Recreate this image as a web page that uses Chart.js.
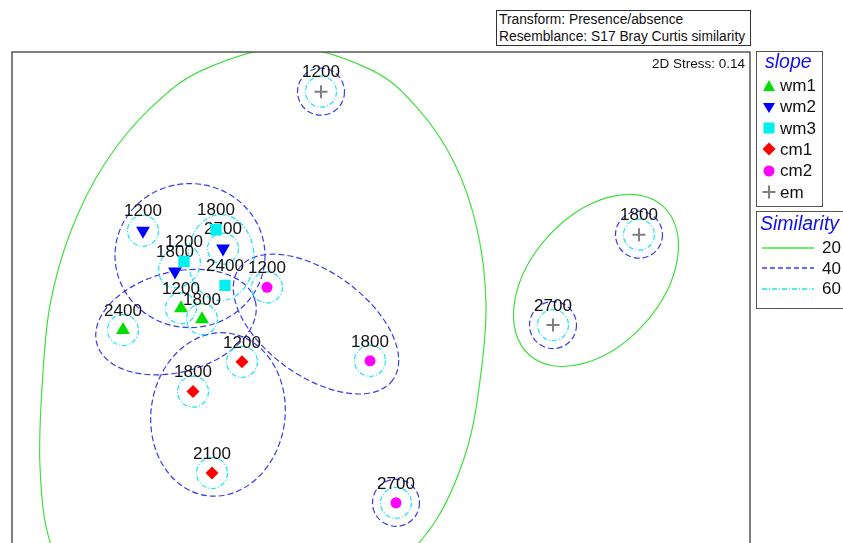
<!DOCTYPE html>
<html>
<head>
<meta charset="utf-8">
<script src="https://cdn.jsdelivr.net/npm/chart.js@4.4.1/dist/chart.umd.min.js"></script>
<style>
	body {margin: 0; width: 843px; height: 543px; overflow: hidden; background: #fff; position: relative; font-family: 'Liberation Sans', Arial, sans-serif;}
	#wrap {position: absolute; left: 0; top: 0; width: 843px; height: 560px;}
	.box {position: absolute; background: #fff; box-sizing: border-box;}
	.info {left: 496px; top: 10px; width: 255px; height: 36px; border: 1px solid #333; font-size: 13.8px; color: #111; padding: 0 0 0 2px; line-height: 17px;}
	.stress {position: absolute; right: 98px; top: 56px; font-size: 13.5px; color: #111;}
	.legend {border: 1.5px solid #555; left: 756px;}
	.legend .title {position: absolute; font-style: italic; color: #1010ee; font-size: 19.5px;}
	.legend .row {position: absolute; left: 5px; font-size: 17px; color: #111; height: 20px; line-height: 20px; white-space: nowrap;}
	.legend svg {vertical-align: middle; margin-right: 4px; position: relative; top: -1px;}
</style>
</head>
<body>
<div id="wrap"><canvas id="nmds" width="843" height="560"></canvas></div>
<div class="box info">Transform: Presence/absence<br>Resemblance: S17 Bray Curtis similarity</div>
<div class="stress">2D Stress: 0.14</div>
<div class="box legend" id="slope" style="top:51px;width:67px;height:156px;"></div>
<div class="box legend" id="sim" style="top:211px;width:100px;height:98px;"></div>
<script>
// nMDS coordinates for each slope group, labelled by altitude
const wm1X = [-1.99, -1.78, -2.57]
const wm1Y = [-0.10, -0.21, -0.32]
const wm1Alt = ['1200', '1800', '2400']
const wm2X = [-2.37, -2.05, -1.57]
const wm2Y = [0.68, 0.27, 0.50]
const wm2Alt = ['1200', '1800', '2700']
const wm3X = [-1.96, -1.64, -1.55]
const wm3Y = [0.37, 0.69, 0.13]
const wm3Alt = ['1200', '1800', '2400']
const cm1X = [-1.38, -1.87, -1.68]
const cm1Y = [-0.64, -0.94, -1.76]
const cm1Alt = ['1200', '1800', '2100']
const cm2X = [-1.13, -0.10, 0.16]
const cm2Y = [0.11, -0.63, -2.06]
const cm2Alt = ['1200', '1800', '2700']
const emX = [-0.59, 2.59, 1.73]
const emY = [2.08, 0.64, -0.27]
const emAlt = ['1200', '1800', '2700']

// 20% similarity outline of the large cluster (traced, closed)
const bigOutlineX = [-1.77, -0.91, -0.09, 0.37, 0.74, 0.97, 1.06, 1.00, 0.86, 0.55, 0.05, -0.60, -1.40, -2.30, -2.95, -3.30, -3.40, -3.38, -3.30, -3.09, -2.75, -2.30]
const bigOutlineY = [2.30, 2.53, 2.30, 1.92, 1.37, 0.70, -0.05, -0.83, -1.55, -2.25, -2.80, -3.25, -3.55, -3.50, -3.10, -2.45, -1.70, -0.90, -0.07, 0.68, 1.36, 1.91]

// similarity contours (centre, semi-axes, tilt in degrees)
const sim20 = [
	{x: 2.16, y: 0.18, rx: 1.00, ry: 0.65, tilt: 48},
]
const sim40 = [
	{x: -1.90, y: 0.43, rx: 0.75, ry: 0.72, tilt: 0},
	{x: -2.04, y: -0.24, rx: 0.82, ry: 0.50, tilt: 15},
	{x: -0.64, y: -0.26, rx: 0.95, ry: 0.52, tilt: -36},
	{x: -1.62, y: -1.17, rx: 0.67, ry: 0.82, tilt: -8},
	{x: -0.59, y: 2.08, rx: 0.235, ry: 0.235, tilt: 0},
	{x: 2.59, y: 0.64, rx: 0.235, ry: 0.235, tilt: 0},
	{x: 1.73, y: -0.27, rx: 0.235, ry: 0.235, tilt: 0},
	{x: 0.16, y: -2.06, rx: 0.235, ry: 0.235, tilt: 0},
]
const sim60 = [
	{x: -1.59, y: 0.41, rx: 0.33, ry: 0.43, tilt: 0},
	{x: -2.005, y: 0.32, rx: 0.23, ry: 0.19, tilt: 48},
	{x: -1.57, y: 0.50, rx: 0.155, ry: 0.155, tilt: 0},
	{x: -2.37, y: 0.68, rx: 0.155, ry: 0.155, tilt: 0},
	{x: -1.99, y: -0.10, rx: 0.155, ry: 0.155, tilt: 0},
	{x: -1.78, y: -0.21, rx: 0.155, ry: 0.155, tilt: 0},
	{x: -2.57, y: -0.32, rx: 0.155, ry: 0.155, tilt: 0},
	{x: -1.38, y: -0.64, rx: 0.155, ry: 0.155, tilt: 0},
	{x: -1.87, y: -0.94, rx: 0.155, ry: 0.155, tilt: 0},
	{x: -1.68, y: -1.76, rx: 0.155, ry: 0.155, tilt: 0},
	{x: -1.13, y: 0.11, rx: 0.155, ry: 0.155, tilt: 0},
	{x: -0.10, y: -0.63, rx: 0.155, ry: 0.155, tilt: 0},
	{x: 0.16, y: -2.06, rx: 0.155, ry: 0.155, tilt: 0},
	{x: -0.59, y: 2.08, rx: 0.155, ry: 0.155, tilt: 0},
	{x: 2.59, y: 0.64, rx: 0.155, ry: 0.155, tilt: 0},
	{x: 1.73, y: -0.27, rx: 0.155, ry: 0.155, tilt: 0},
]

const GREEN = '#3fe03f'
const BLUE = '#3a3aee'
const CYAN = '#18e6f0'
const DASH40 = [6, 3]
const DASH60 = [5, 2, 1, 2]

const groups = [
	{name: 'wm1', xs: wm1X, ys: wm1Y, alt: wm1Alt, style: 'triangle', color: '#00e000', radius: 8, rotation: 0},
	{name: 'wm2', xs: wm2X, ys: wm2Y, alt: wm2Alt, style: 'triangle', color: '#0000ff', radius: 8, rotation: 180},
	{name: 'wm3', xs: wm3X, ys: wm3Y, alt: wm3Alt, style: 'rect', color: '#00f0f0', radius: 8, rotation: 0},
	{name: 'cm1', xs: cm1X, ys: cm1Y, alt: cm1Alt, style: 'rectRot', color: '#ff0000', radius: 6.5, rotation: 0},
	{name: 'cm2', xs: cm2X, ys: cm2Y, alt: cm2Alt, style: 'circle', color: '#ff00ff', radius: 5.5, rotation: 0},
	{name: 'em', xs: emX, ys: emY, alt: emAlt, style: 'cross', color: '#808080', radius: 6.5, rotation: 0},
]

function drawEllipses(chart, list, color, dash) {
	const {ctx, scales: {x, y}} = chart
	const unit = x.getPixelForValue(1) - x.getPixelForValue(0)
	ctx.save()
	ctx.strokeStyle = color
	ctx.lineWidth = 1.2
	ctx.setLineDash(dash)
	for (const e of list) {
		ctx.beginPath()
		ctx.ellipse(x.getPixelForValue(e.x), y.getPixelForValue(e.y), e.rx * unit, e.ry * unit, -e.tilt * Math.PI / 180, 0, 2 * Math.PI)
		ctx.stroke()
	}
	ctx.restore()
}

// closed smooth curve through traced outline points
function drawOutline(chart, xs, ys, color) {
	const {ctx, scales: {x, y}} = chart
	const p = xs.map((v, i) => [x.getPixelForValue(v), y.getPixelForValue(ys[i])])
	const n = p.length
	ctx.save()
	ctx.strokeStyle = color
	ctx.lineWidth = 1.2
	ctx.beginPath()
	ctx.moveTo(p[0][0], p[0][1])
	for (let i = 0; i < n; i++) {
		const p0 = p[(i - 1 + n) % n], p1 = p[i], p2 = p[(i + 1) % n], p3 = p[(i + 2) % n]
		ctx.bezierCurveTo(
			p1[0] + (p2[0] - p0[0]) / 6, p1[1] + (p2[1] - p0[1]) / 6,
			p2[0] - (p3[0] - p1[0]) / 6, p2[1] - (p3[1] - p1[1]) / 6,
			p2[0], p2[1])
	}
	ctx.stroke()
	ctx.restore()
}

const contours = {
	id: 'contours',
	beforeDatasetsDraw(chart) {
		const {ctx, chartArea: a} = chart
		ctx.save()
		ctx.beginPath()
		ctx.rect(a.left, a.top, a.right - a.left, a.bottom - a.top)
		ctx.clip()
		drawOutline(chart, bigOutlineX, bigOutlineY, GREEN)
		drawEllipses(chart, sim20, GREEN, [])
		drawEllipses(chart, sim40, BLUE, DASH40)
		drawEllipses(chart, sim60, CYAN, DASH60)
		// altitude labels
		ctx.font = '17px "Liberation Sans", Arial, sans-serif'
		ctx.fillStyle = '#111'
		ctx.textAlign = 'center'
		ctx.textBaseline = 'middle'
		chart.data.datasets.forEach((ds, i) => {
			chart.getDatasetMeta(i).data.forEach((pt, j) => {
				ctx.fillText(ds.labels[j], pt.x, pt.y - 19)
			})
		})
		ctx.restore()
	},
	afterDraw(chart) {
		const {ctx, chartArea: a} = chart
		ctx.save()
		ctx.strokeStyle = '#555'
		ctx.lineWidth = 1.5
		ctx.strokeRect(a.left, a.top, a.right - a.left, a.bottom - a.top)
		ctx.restore()
	},
}

new Chart(document.getElementById('nmds'), {
	type: 'scatter',
	data: {
		datasets: groups.map(g => ({
			label: g.name,
			labels: g.alt,
			data: g.xs.map((v, i) => ({x: v, y: g.ys[i]})),
			pointStyle: g.style,
			pointRotation: g.rotation,
			pointRadius: g.radius,
			backgroundColor: g.color,
			borderColor: g.color,
			borderWidth: g.style == 'cross' ? 2 : 0,
		})),
	},
	options: {
		responsive: false,
		animation: false,
		events: [],
		layout: {padding: {left: 12, top: 52, right: 93, bottom: 5}},
		scales: {
			x: {display: false, min: -3.68, max: 3.70},
			y: {display: false, min: -2.55, max: 2.48},
		},
		plugins: {legend: {display: false}, tooltip: {enabled: false}},
	},
	plugins: [contours],
})

// legends
function symbol(g) {
	const c = g.color
	const shapes = {
		triangle: g.rotation ? `<polygon points="1,3 13,3 7,13" fill="${c}"/>` : `<polygon points="7,1 13,12 1,12" fill="${c}"/>`,
		rect: `<rect x="1.5" y="1.5" width="11" height="11" fill="${c}"/>`,
		rectRot: `<polygon points="7,0.5 13.5,7 7,13.5 0.5,7" fill="${c}"/>`,
		circle: `<circle cx="7" cy="7" r="5.5" fill="${c}"/>`,
		cross: `<path d="M7 0.5V13.5M0.5 7H13.5" stroke="${c}" stroke-width="2"/>`,
	}
	return `<svg width="14" height="14">${shapes[g.style]}</svg>`
}
const slope = document.getElementById('slope')
slope.innerHTML = '<div class="title" style="left:8px;top:-2px;">slope</div>' +
	groups.map((g, i) => `<div class="row" style="top:${24 + i * 21.3}px;">${symbol(g)}${g.name}</div>`).join('')

const simLevels = ['20', '40', '60']
const simStyles = [[GREEN, ''], [BLUE, '5,3'], [CYAN, '5,2,1,2']]
const sim = document.getElementById('sim')
sim.innerHTML = '<div class="title" style="left:3px;top:0px;">Similarity</div>' +
	simLevels.map((s, i) => `<div class="row" style="top:${26 + i * 20.5}px;"><svg width="52" height="6" style="margin-right:8px"><line x1="0" y1="3" x2="52" y2="3" stroke="${simStyles[i][0]}" stroke-width="1.3" stroke-dasharray="${simStyles[i][1]}"/></svg>${s}</div>`).join('')
</script>
</body>
</html>
